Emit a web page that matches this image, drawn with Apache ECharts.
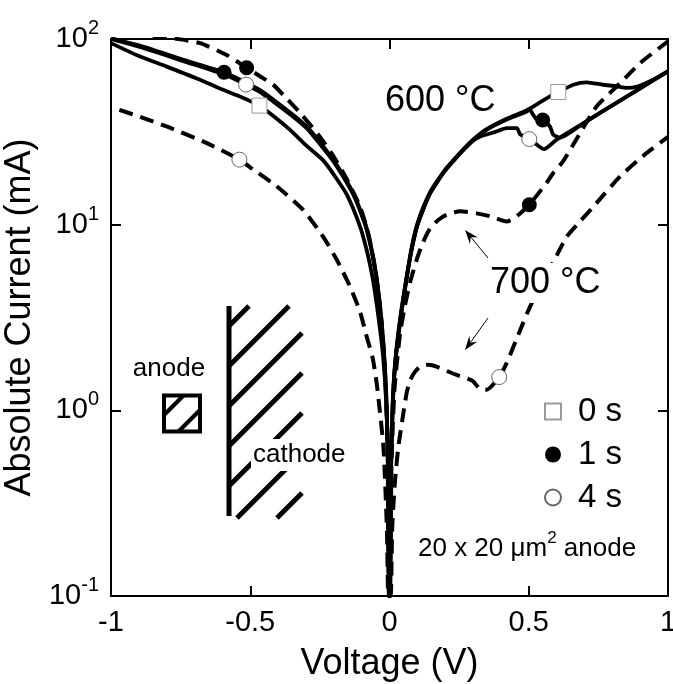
<!DOCTYPE html>
<html>
<head>
<meta charset="utf-8">
<title>Absolute current vs voltage</title>
<script src="https://cdn.jsdelivr.net/npm/echarts@6/dist/echarts.min.js"></script>
<style>
  html, body { margin: 0; padding: 0; background: #fff; }
  #main { width: 673px; height: 684px; }
</style>
</head>
<body>
<div id="main"></div>
<script>
// 600 °C (solid lines): [voltage (V), absolute current (mA)]
const solid0s = [
  [-1, 95], [-0.9, 81], [-0.8, 71], [-0.7, 62], [-0.62, 55], [-0.537, 49], [-0.467, 43.8],
  [-0.417, 38.5], [-0.357, 32.4], [-0.3, 26.8], [-0.238, 22.2], [-0.2, 18.6], [-0.154, 14.6],
  [-0.106, 9.8], [-0.08, 7.1], [-0.06, 5.1], [-0.04, 3.2], [-0.023, 1.95], [-0.011, 1.05],
  [-0.005, 0.45], [-0.0015, 0.1],
  [0.0015, 0.1], [0.005, 0.45], [0.011, 1.05], [0.02, 1.8], [0.038, 3.1], [0.062, 5.3],
  [0.08, 7.6], [0.098, 9.9], [0.12, 12.3], [0.145, 14.9], [0.169, 17], [0.2, 19.8],
  [0.229, 22.2], [0.26, 25], [0.301, 28.8], [0.35, 32.8], [0.421, 37.2], [0.493, 41.3],
  [0.54, 45.5], [0.576, 49.1], [0.606, 51.8], [0.66, 56.7], [0.708, 58.4], [0.767, 56.7],
  [0.816, 55.6], [0.852, 54.5], [0.89, 55.5], [0.95, 60.8], [1, 67]
];
const solid1s = [
  [-1, 101], [-0.885, 91], [-0.74, 77.3], [-0.594, 66.2], [-0.537, 60.4], [-0.467, 53.3],
  [-0.417, 47.1], [-0.357, 40.2], [-0.297, 33.8], [-0.25, 27.8], [-0.202, 22.4], [-0.165, 18.3],
  [-0.13, 14.8], [-0.105, 12], [-0.082, 9.6], [-0.058, 6.6], [-0.04, 4.4], [-0.023, 2.4],
  [-0.012, 1.25], [-0.005, 0.5], [-0.0015, 0.1],
  [0.0015, 0.1], [0.005, 0.45], [0.011, 1.0], [0.02, 1.75], [0.038, 3.0], [0.062, 5.2],
  [0.08, 7.4], [0.098, 9.7], [0.12, 12], [0.145, 14.7], [0.169, 16.8], [0.2, 19.6],
  [0.229, 22], [0.26, 24.8], [0.301, 28.6], [0.35, 32.5], [0.421, 36.8], [0.493, 40.7],
  [0.504, 41.6], [0.516, 39], [0.528, 36.9], [0.55, 36.6], [0.576, 33.8], [0.588, 30.5],
  [0.612, 29.4], [0.7, 35.5], [0.8, 43.9], [0.9, 54.2], [1, 67]
];
const solid4s = [
  [-1, 100], [-0.885, 89.5], [-0.74, 76], [-0.594, 64.5], [-0.537, 59], [-0.467, 52],
  [-0.417, 46], [-0.357, 39.3], [-0.297, 33], [-0.25, 27.2], [-0.202, 22], [-0.165, 18],
  [-0.13, 14.5], [-0.105, 11.8], [-0.082, 9.4], [-0.058, 6.5], [-0.04, 4.3], [-0.023, 2.35],
  [-0.012, 1.2], [-0.005, 0.5], [-0.0015, 0.1],
  [0.0015, 0.1], [0.005, 0.45], [0.011, 1.0], [0.02, 1.75], [0.038, 3.0], [0.062, 5.2],
  [0.08, 7.4], [0.098, 9.7], [0.12, 12], [0.145, 14.7], [0.169, 16.8], [0.2, 19.6],
  [0.229, 22], [0.26, 24.8], [0.301, 28.4], [0.325, 29.8], [0.38, 31.6], [0.421, 33.1],
  [0.457, 33.1], [0.469, 30.7], [0.502, 28.9], [0.54, 26.2], [0.555, 25.5], [0.6, 28.7],
  [0.7, 35.5], [0.8, 43.9], [0.9, 54.2], [1, 67]
];

// 700 °C (dashed lines)
const dash1s = [
  [-0.85, 104], [-0.76, 100], [-0.68, 95], [-0.585, 82], [-0.513, 70], [-0.465, 63],
  [-0.417, 56.6], [-0.365, 47], [-0.315, 39.1], [-0.25, 29.8], [-0.2, 23.2], [-0.15, 17.2],
  [-0.105, 12.4], [-0.075, 8.8], [-0.05, 5.6], [-0.03, 3.2], [-0.016, 1.6], [-0.007, 0.65],
  [-0.002, 0.1],
  [0.002, 0.1], [0.007, 0.5], [0.018, 1.3], [0.038, 2.6], [0.056, 3.7], [0.074, 4.9],
  [0.098, 6.5], [0.12, 8.0], [0.145, 9.5], [0.175, 10.6], [0.205, 11.3], [0.253, 11.8],
  [0.313, 11.5], [0.361, 11.1], [0.421, 10.4], [0.445, 10.8], [0.469, 11.5], [0.502, 12.8],
  [0.564, 16.8], [0.588, 19], [0.623, 21.9], [0.684, 31.1], [0.744, 43.4], [0.828, 57.8],
  [0.9, 74.3], [1, 97]
];
const dash4s = [
  [-0.97, 41.5], [-0.9, 38.3], [-0.8, 33.8], [-0.656, 27.5], [-0.539, 22.4], [-0.489, 19.8],
  [-0.405, 16.1], [-0.31, 12], [-0.238, 8.6], [-0.19, 6.5], [-0.142, 4.65], [-0.106, 3.4],
  [-0.082, 2.5], [-0.06, 1.9], [-0.046, 1.4], [-0.034, 0.97], [-0.022, 0.64], [-0.016, 0.42],
  [-0.009, 0.22], [-0.004, 0.1],
  [0.004, 0.1], [0.01, 0.24], [0.02, 0.42], [0.032, 0.64], [0.05, 0.97], [0.062, 1.25],
  [0.074, 1.45], [0.09, 1.6], [0.11, 1.72], [0.14, 1.76], [0.169, 1.72], [0.205, 1.63],
  [0.241, 1.55], [0.28, 1.48], [0.301, 1.43], [0.325, 1.3], [0.349, 1.29], [0.394, 1.51],
  [0.421, 1.8], [0.469, 2.7], [0.504, 3.6], [0.55, 4.9], [0.6, 6.8], [0.636, 8.6],
  [0.684, 10.4], [0.732, 12.5], [0.828, 18.2], [0.923, 24.3], [1, 29.7]
];

// time markers placed on the curves
const marks0s = [[-0.467, 43.8], [0.606, 51.8]];
const marks1s = [[-0.594, 66.2], [-0.513, 70], [0.55, 36.6], [0.502, 12.8]];
const marks4s = [[-0.515, 56.8], [-0.539, 22.4], [0.502, 28.9], [0.394, 1.51]];

const legendNames = ['0 s', '1 s', '4 s'];

const FONT = '"Liberation Sans", Arial, Helvetica, sans-serif';

function curve(name, data, dashed) {
  return {
    name: name,
    type: 'line',
    data: data,
    symbol: 'none',
    smooth: 0.2,
    silent: true,
    clip: true,
    lineStyle: {
      color: '#000',
      width: dashed ? 4 : 3.8,
      type: dashed ? [14, 8] : 'solid',
      cap: 'butt'
    }
  };
}

const chart = echarts.init(document.getElementById('main'));

// hatch lines of the cathode drawing: y = y0 - (x - 229)
const hatch = [
  [229, 326, 249, 306], [229, 366, 289, 306], [229, 406, 302, 333], [229, 446, 302, 373],
  [229, 486, 302, 413], [237, 518, 302, 453], [277, 518, 302, 493]
];

const graphics = [];
hatch.forEach(h => {
  graphics.push({
    type: 'line', silent: true, z: 10,
    shape: { x1: h[0], y1: h[1], x2: h[2], y2: h[3] },
    style: { stroke: '#000', lineWidth: 5, lineCap: 'butt' }
  });
});
graphics.push(
  { type: 'line', silent: true, z: 10, shape: { x1: 229, y1: 306, x2: 229, y2: 516 },
    style: { stroke: '#000', lineWidth: 5 } },
  { type: 'text', silent: true, z: 11, x: 251, y: 455,
    style: { text: 'cathode', fontSize: 26, fontFamily: FONT, fill: '#000',
             verticalAlign: 'middle', backgroundColor: '#fff', padding: [3, 2, 3, 2] } },
  // anode box
  { type: 'rect', silent: true, z: 10, shape: { x: 164, y: 395.5, width: 36, height: 36 },
    style: { fill: 'none', stroke: '#000', lineWidth: 4 } },
  { type: 'line', silent: true, z: 10, shape: { x1: 164, y1: 415, x2: 183.5, y2: 395.5 },
    style: { stroke: '#000', lineWidth: 4 } },
  { type: 'line', silent: true, z: 10, shape: { x1: 178.5, y1: 431.5, x2: 200, y2: 410 },
    style: { stroke: '#000', lineWidth: 4 } },
  { type: 'text', silent: true, z: 11, x: 169, y: 369,
    style: { text: 'anode', fontSize: 26, fontFamily: FONT, fill: '#000',
             align: 'center', verticalAlign: 'middle' } },
  // temperature labels
  { type: 'text', silent: true, z: 11, x: 385, y: 101,
    style: { text: '600 °C', fontSize: 36, fontFamily: FONT, fill: '#000',
             verticalAlign: 'middle' } },
  { type: 'text', silent: true, z: 11, x: 488, y: 283,
    style: { text: '700 °C', fontSize: 36, fontFamily: FONT, fill: '#000',
             verticalAlign: 'middle', backgroundColor: '#fff', padding: [2, 2, 2, 2] } },
  // arrows
  { type: 'line', silent: true, z: 11, shape: { x1: 488, y1: 258, x2: 470.7, y2: 236.9 },
    style: { stroke: '#000', lineWidth: 1 } },
  { type: 'polygon', silent: true, z: 11,
    shape: { points: [[465, 230], [477.8, 237.6], [470.7, 236.9], [470, 244]] },
    style: { fill: '#000' } },
  { type: 'line', silent: true, z: 11, shape: { x1: 488, y1: 318, x2: 470.3, y2: 342.7 },
    style: { stroke: '#000', lineWidth: 1 } },
  { type: 'polygon', silent: true, z: 11,
    shape: { points: [[465, 350], [477.3, 341.7], [470.3, 342.7], [469.3, 335.7]] },
    style: { fill: '#000' } },
  // device size note
  { type: 'text', silent: true, z: 11, x: 418, y: 549,
    style: { text: '{a|20 x 20 μm}{s|2}{a| anode}', fontFamily: FONT, fill: '#000',
             verticalAlign: 'middle',
             rich: { a: { fontSize: 26, fontFamily: FONT, padding: [6, 0, 6, 0] },
                     s: { fontSize: 17, fontFamily: FONT, verticalAlign: 'top' } } } }
);

const option = {
  animation: false,
  backgroundColor: '#fff',
  textStyle: { fontFamily: FONT, color: '#000' },
  grid: { left: 111, right: 5, top: 39, bottom: 88, outerBoundsMode: 'none' },
  legend: {
    data: legendNames,
    orient: 'vertical',
    left: 539, top: 390,
    itemWidth: 16, itemHeight: 16, itemGap: 10,
    selectedMode: false,
    textStyle: { fontSize: 33, color: '#000', fontFamily: FONT, padding: [0, 0, 0, 12] }
  },
  xAxis: [
    {
      type: 'value', min: -1, max: 1, interval: 0.5, position: 'bottom',
      name: 'Voltage (V)', nameLocation: 'middle', nameGap: 50,
      nameTextStyle: { fontSize: 36, color: '#000', fontFamily: FONT },
      axisLine: { onZero: false, lineStyle: { color: '#000', width: 2 } },
      axisTick: { inside: true, length: 10, lineStyle: { color: '#000', width: 2 } },
      axisLabel: { fontSize: 29, color: '#000', margin: 12 },
      splitLine: { show: false }
    },
    {
      type: 'value', min: -1, max: 1, interval: 0.5, position: 'top',
      axisLine: { onZero: false, lineStyle: { color: '#000', width: 2 } },
      axisTick: { inside: true, length: 10, lineStyle: { color: '#000', width: 2 } },
      axisLabel: { show: false },
      splitLine: { show: false }
    }
  ],
  yAxis: [
    {
      type: 'log', logBase: 10, min: 0.1, max: 100, position: 'left',
      name: 'Absolute Current (mA)', nameLocation: 'middle', nameGap: 64, nameRotate: 90,
      nameTextStyle: { fontSize: 36, color: '#000', fontFamily: FONT },
      axisLine: { onZero: false, lineStyle: { color: '#000', width: 2 } },
      axisTick: { inside: true, length: 10, lineStyle: { color: '#000', width: 2 } },
      minorTick: { show: false },
      axisLabel: {
        margin: 12, color: '#000',
        formatter: v => '{b|10}{s|' + Math.round(Math.log10(v)) + '}',
        rich: {
          b: { fontSize: 29, fontFamily: FONT, padding: [6, 0, 6, 0] },
          s: { fontSize: 20, fontFamily: FONT, verticalAlign: 'top' }
        }
      },
      splitLine: { show: false }
    },
    {
      type: 'log', logBase: 10, min: 0.1, max: 100, position: 'right',
      axisLine: { onZero: false, lineStyle: { color: '#000', width: 2 } },
      axisTick: { inside: true, length: 10, lineStyle: { color: '#000', width: 2 } },
      axisLabel: { show: false },
      splitLine: { show: false }
    }
  ],
  graphic: graphics,
  series: [
    curve('600 °C, 0 s', solid0s, false),
    curve('600 °C, 1 s', solid1s, false),
    curve('600 °C, 4 s', solid4s, false),
    curve('700 °C, 1 s', dash1s, true),
    curve('700 °C, 4 s', dash4s, true),
    {
      name: '0 s', type: 'scatter', data: marks0s, symbol: 'rect', symbolSize: 15, silent: true,
      itemStyle: { color: '#fff', borderColor: '#999', borderWidth: 1, opacity: 1 }, z: 5
    },
    {
      name: '1 s', type: 'scatter', data: marks1s, symbol: 'circle', symbolSize: 15, silent: true,
      itemStyle: { color: '#000', borderColor: '#000', borderWidth: 0, opacity: 1 }, z: 5
    },
    {
      name: '4 s', type: 'scatter', data: marks4s, symbol: 'circle', symbolSize: 15, silent: true,
      itemStyle: { color: '#fff', borderColor: '#666', borderWidth: 1, opacity: 1 }, z: 5
    }
  ]
};

chart.setOption(option);
</script>
</body>
</html>
